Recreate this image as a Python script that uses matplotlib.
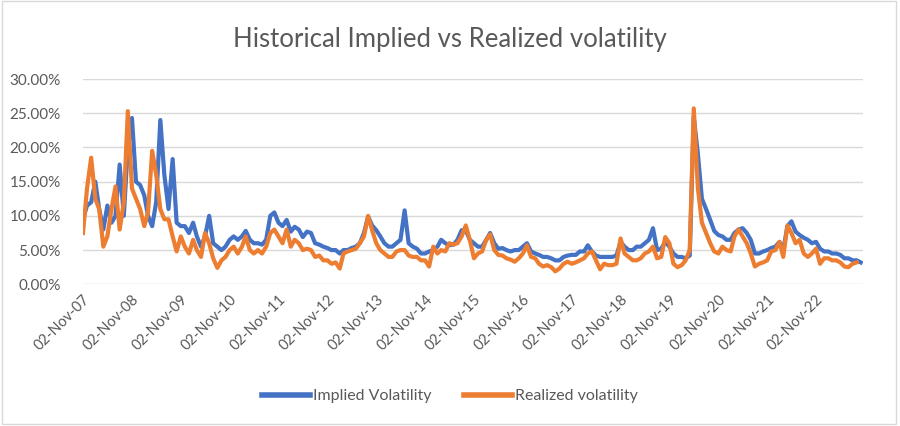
import matplotlib
matplotlib.use("Agg")
import matplotlib.pyplot as plt
import matplotlib.dates as mdates
from matplotlib.ticker import FuncFormatter
from matplotlib.patches import Rectangle
import pandas as pd

plt.rcParams['font.family'] = ['Lato', 'DejaVu Sans']

start_date = "2007-11-02"

implied_vol = [
    9.5, 11.5, 12, 15, 11, 8, 11.5, 9, 10, 17.5, 10, 20, 24.3, 15, 14.5, 13, 10, 8.5, 12, 24, 16, 11, 18.3, 9,
    8.5, 8.5, 7.5, 9, 7, 5.5, 7, 10, 6, 5.5, 5, 5.5, 6.5, 7, 6.5, 7, 7.8, 6.5, 6, 6, 5.8, 6.5, 10, 10.5,
    9, 8.5, 9.4, 7.7, 8.4, 8, 6.9, 7.7, 7.5, 6, 5.8, 5.5, 5.3, 5, 5, 4.5, 5, 5, 5.3, 5.5, 6, 7.5, 9.9, 8.6,
    7.9, 7, 6, 5.5, 5.5, 6, 6.5, 10.8, 6, 5.5, 5.2, 4.5, 4.5, 4.8, 5, 5.5, 6.5, 6, 5.7, 5.8, 6.5, 7.9, 7.9, 6.5,
    6, 5.5, 5.5, 6.5, 7.5, 6, 5.2, 5.3, 5, 4.8, 5, 5, 5.5, 6, 4.8, 4.5, 4.3, 4, 4, 3.8, 3.5, 3.5, 4, 4.2,
    4.3, 4.3, 4.8, 4.8, 5.7, 4.8, 4.2, 4, 4, 4, 4, 4.2, 6.2, 5.5, 5, 5, 5.5, 5.5, 6, 6.5, 8.2, 5, 5.2, 6.2,
    5.5, 4.5, 4, 4, 3.8, 4.2, 24.5, 19, 12.5, 11, 9.4, 7.8, 7.2, 7, 6.5, 6.5, 7.5, 8, 8.2, 7.5, 6.5, 4.5, 4.5, 4.8,
    5, 5.3, 5.5, 6.2, 5, 8.5, 9.2, 7.7, 7.2, 6.8, 6.5, 6, 6.2, 5.2, 4.8, 4.8, 4.5, 4.5, 4.3, 3.8, 3.8, 3.5, 3.5, 3.2,
]

realized_vol = [
    7.5, 14, 18.5, 12.5, 11, 5.5, 7, 11, 14.3, 8, 12, 25.3, 14, 12.5, 11, 8.5, 10.5, 19.5, 16, 11, 9.5, 9.5, 7, 4.8,
    7, 5.5, 4.5, 6.5, 5, 4, 7.5, 6, 3.8, 2.4, 3.5, 4, 5, 5.5, 4.5, 5.5, 7, 5, 4.5, 5, 4.5, 5.5, 7.5, 8,
    7, 6, 8, 5.5, 6.5, 6, 5, 5.2, 5, 4, 4.2, 3.5, 3.5, 3, 3.2, 2.3, 4.5, 4.8, 5, 5.2, 6, 7, 10, 7.9,
    6, 5, 4.5, 4, 4, 4.8, 5, 5, 4.2, 4, 4, 3.5, 3.5, 2.6, 5.5, 4.5, 5, 4.8, 6, 5.8, 6, 7, 8.6, 6.5,
    3.8, 4.5, 4.8, 6.5, 7.3, 5, 4.3, 4.2, 3.8, 3.6, 3.3, 3.8, 4.5, 5.7, 4, 3.8, 3, 2.6, 2.8, 2.5, 1.9, 2.3, 3, 3.3,
    3, 3.2, 3.5, 3.8, 4.5, 4.8, 3.5, 2.2, 3, 2.8, 2.8, 3, 6.7, 4.5, 4, 3.5, 3.5, 3.8, 4.5, 4.8, 5.5, 3.8, 4, 6.9,
    6, 3, 2.5, 2.8, 3.5, 5, 25.7, 14, 9, 7.5, 6, 4.8, 4.5, 5.5, 5, 4.8, 7, 8, 7, 6, 4.5, 2.6, 3, 3.2,
    3.5, 4.8, 5, 6.2, 4, 8.6, 7.5, 6, 6.5, 4.5, 4, 4.5, 5.2, 3, 3.8, 3.8, 3.5, 3.5, 3.2, 2.6, 2.5, 3, 3.2,
]

series_names = ["Implied Volatility", "Realized volatility"]
series_colors = ["#4472C4", "#ED7D31"]

dates = pd.date_range(start_date, periods=len(implied_vol), freq=pd.DateOffset(months=1))
tick_dates = pd.date_range(start_date, periods=16, freq=pd.DateOffset(years=1))

fig = plt.figure(figsize=(9, 4.26), dpi=100)
ax = fig.add_axes([83/900, 1-284.3/426, 780/900, (284.3-79)/426])

iv = [v/100 for v in implied_vol]
rv = [v/100 for v in realized_vol]
ax.plot(dates[:len(iv)], iv, color=series_colors[0], lw=3.0, label=series_names[0], solid_joinstyle='round')
ax.plot(dates[:len(rv)], rv, color=series_colors[1], lw=3.0, label=series_names[1], solid_joinstyle='round')

ax.set_ylim(0, 0.30)
ax.set_yticks([0, 0.05, 0.10, 0.15, 0.20, 0.25, 0.30])
ax.yaxis.set_major_formatter(FuncFormatter(lambda v, p: f"{v*100:.2f}%"))
ax.set_xlim(pd.Timestamp(start_date), pd.Timestamp("2023-10-19"))
ax.set_xticks(tick_dates)
ax.xaxis.set_major_formatter(mdates.DateFormatter('%d-%b-%y'))
for lab in ax.get_xticklabels():
    lab.set_rotation(45)
    lab.set_ha('right')
    lab.set_rotation_mode('anchor')
    lab.set_fontsize(10.5)

ax.grid(axis='y', color='#d9d9d9', lw=1)
ax.set_axisbelow(True)
for s in ax.spines.values():
    s.set_visible(False)
ax.tick_params(length=0, colors='#595959')
ax.tick_params(axis='y', pad=16, labelsize=11)
ax.tick_params(axis='x', pad=6)

fig.text(0.5, 1-40/426, "Historical Implied vs Realized volatility", ha='center', va='center',
         fontsize=18.5, color='#595959')

leg = fig.legend(loc='center', bbox_to_anchor=(0.5, 1-396/426), ncol=2, frameon=False,
                 fontsize=11.5, handlelength=3, handletextpad=0.2, columnspacing=2.0,
                 labelcolor='#595959')
for line in leg.get_lines():
    line.set_linewidth(4)

fig.patches.append(Rectangle((0.002, 0.004), 0.994, 0.994, transform=fig.transFigure,
                             fill=False, edgecolor='#d9d9d9', lw=1))

fig.savefig("out.png", dpi=100)
